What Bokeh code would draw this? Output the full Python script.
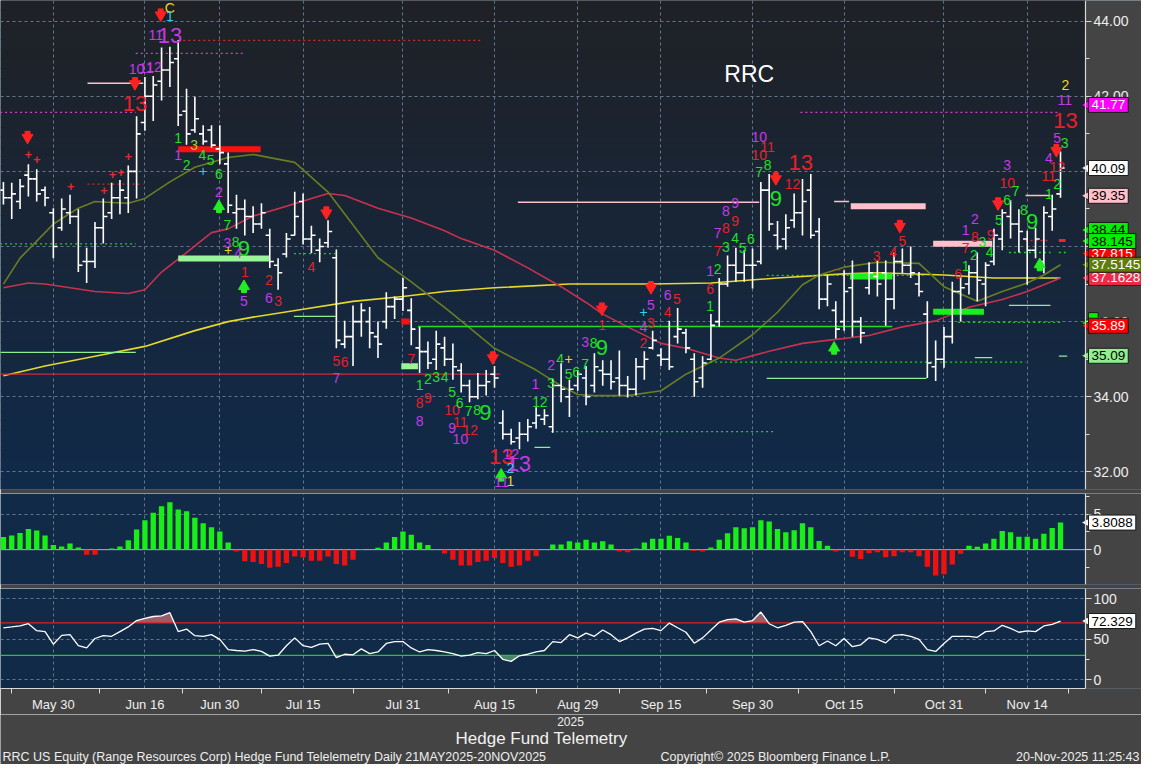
import numpy as np
from bokeh.plotting import figure
from bokeh.layouts import column
from bokeh.models import (Range1d, FixedTicker, Label, BoxAnnotation, Grid, LinearAxis,
                          ColumnDataSource, NumeralTickFormatter)
from bokeh.embed import file_html
from bokeh.resources import INLINE
from bokeh.core.properties import value

# ---------------- data (bar index 0 = 21 May 2025 ... 127 = 20 Nov 2025) ----------------
tick_idx = [6, 17, 26, 36, 48, 59, 69, 79, 90, 101, 113, 123]
tick_lbl = ["May 30", "Jun 16", "Jun 30", "Jul 15", "Jul 31", "Aug 15", "Aug 29",
            "Sep 15", "Sep 30", "Oct 15", "Oct 31", "Nov 14"]
minor_idx = [1, 11.5, 21.5, 31, 42, 53.5, 64, 74, 84.5, 95.5, 107, 118, 128]

highs = [39.72, 39.70, 39.80, 40.19, 40.06, 39.60, 39.02, 39.28, 39.38, 38.99,
         37.97, 38.65, 39.28, 39.70, 39.77, 40.16, 41.47, 42.51, 42.54, 43.30,
         43.32, 43.50, 42.20, 41.99, 41.23, 41.23, 41.23, 40.50, 39.38, 39.25,
         39.07, 39.15, 38.47, 37.69, 38.36, 39.46, 39.41, 38.55, 38.21, 38.70,
         37.92, 36.02, 36.43, 36.49, 36.39, 36.00, 36.78, 36.67, 37.16, 36.62,
         35.86, 35.47, 35.76, 35.60, 35.42, 34.89, 34.45, 34.63, 34.71, 34.82,
         33.64, 33.15, 33.33, 33.41, 33.72, 33.67, 34.48, 34.89, 34.45, 34.71,
         34.82, 35.16, 34.97, 34.97, 35.23, 34.55, 35.03, 35.21, 35.76, 35.29,
         36.02, 36.36, 35.81, 35.16, 35.08, 36.20, 37.16, 37.76, 37.97, 37.90,
         37.95, 39.72, 39.93, 38.68, 38.86, 39.41, 39.80, 39.93, 38.76, 37.24,
         36.54, 37.37, 37.63, 36.12, 37.58, 37.63, 37.63, 37.84, 37.95, 38.00,
         37.32, 36.54, 35.50, 35.86, 37.06, 37.24, 37.50, 37.84, 37.58, 38.47,
         38.99, 39.23, 38.99, 38.42, 38.50, 39.07, 39.38, 40.53]
lows = [39.12, 38.73, 39.00, 39.33, 39.20, 39.07, 37.69, 38.42, 38.60, 37.32,
        37.03, 37.43, 38.08, 38.73, 38.86, 38.89, 39.28, 41.08, 41.34, 41.89,
        42.25, 41.21, 40.71, 41.03, 40.71, 40.63, 40.19, 38.89, 38.47, 38.29,
        38.36, 38.47, 37.43, 36.85, 37.71, 38.29, 38.05, 37.82, 37.58, 37.97,
        35.29, 35.29, 34.82, 35.60, 35.29, 35.03, 35.81, 36.07, 36.28, 35.37,
        34.63, 34.74, 34.71, 34.82, 34.45, 34.11, 33.85, 33.93, 34.03, 34.24,
        32.86, 32.73, 32.60, 32.81, 33.15, 33.25, 33.04, 33.85, 33.46, 34.16,
        33.77, 34.11, 34.29, 34.19, 34.03, 33.98, 34.03, 34.45, 35.26, 34.82,
        34.71, 35.42, 35.16, 34.00, 34.24, 34.97, 35.86, 36.93, 37.06, 37.06,
        36.88, 37.53, 38.42, 37.92, 37.92, 38.50, 38.29, 38.21, 36.33, 36.41,
        35.55, 35.76, 35.60, 35.42, 36.72, 36.67, 35.89, 36.33, 37.29, 37.16,
        36.67, 34.50, 34.42, 34.77, 35.42, 36.00, 36.72, 36.54, 36.41, 37.50,
        37.90, 38.21, 37.84, 36.98, 37.69, 37.29, 38.42, 39.30]
opens = [39.5, 39.3, 39.2, 39.9, 39.8, 39.5, 38.9, 38.5, 38.9, 38.8,
         37.6, 37.6, 38.5, 38.9, 39.3, 39.3, 40.0, 41.3, 42.0, 42.4,
         42.7, 43.0, 41.6, 41.1, 41.0, 41.1, 40.6, 40.2, 38.9, 39.0,
         38.8, 38.6, 38.3, 37.5, 37.8, 38.3, 39.2, 38.2, 37.9, 38.1,
         37.7, 35.4, 35.6, 36.0, 36.0, 35.6, 36.0, 36.4, 36.6, 36.3,
         35.3, 35.2, 35.0, 35.3, 35.0, 34.7, 34.3, 34.0, 34.3, 34.6,
         33.3, 33.0, 32.9, 33.0, 33.3, 33.4, 33.2, 34.3, 34.0, 34.3,
         34.5, 34.3, 34.7, 34.6, 34.5, 34.3, 34.2, 34.8, 35.3, 35.1,
         35.0, 35.6, 35.7, 35.0, 34.5, 35.0, 36.0, 37.0, 37.5, 37.3,
         37.5, 37.6, 39.5, 38.3, 38.2, 38.7, 38.9, 39.5, 38.4, 36.6,
         36.3, 36.0, 36.9, 36.0, 36.9, 37.2, 37.3, 36.6, 37.6, 37.5,
         37.0, 36.2, 34.8, 35.0, 35.6, 36.8, 37.0, 37.3, 37.0, 37.6,
         38.2, 38.8, 38.6, 38.2, 37.9, 37.6, 38.8, 39.4]
closes = [39.3, 39.4, 39.6, 39.8, 39.4, 39.3, 38.0, 39.0, 38.8, 37.5,
          37.6, 38.5, 38.8, 39.3, 39.5, 40.0, 41.0, 42.0, 42.3, 42.7,
          42.9, 41.5, 41.0, 41.4, 40.8, 40.7, 40.5, 39.1, 39.0, 38.8,
          38.6, 38.9, 37.6, 37.3, 38.2, 38.8, 38.2, 38.3, 38.0, 38.4,
          35.5, 35.6, 36.0, 36.3, 35.7, 35.4, 36.4, 36.6, 36.9, 35.8,
          35.2, 34.9, 35.4, 35.0, 34.8, 34.3, 34.0, 34.3, 34.4, 34.5,
          33.0, 32.8, 33.0, 33.2, 33.5, 33.5, 34.3, 34.2, 34.2, 34.6,
          34.0, 34.8, 34.6, 34.4, 34.3, 34.2, 34.8, 35.0, 35.5, 35.0,
          34.8, 35.8, 35.3, 34.4, 34.9, 35.9, 37.0, 37.5, 37.3, 37.5,
          37.5, 39.5, 38.6, 38.0, 38.5, 38.9, 39.2, 38.3, 36.6, 37.0,
          35.8, 36.8, 36.0, 35.7, 37.3, 37.0, 36.6, 37.6, 37.5, 37.3,
          36.8, 34.9, 35.0, 35.6, 36.8, 36.9, 37.3, 37.1, 37.5, 38.3,
          38.9, 38.6, 38.4, 37.9, 38.2, 38.9, 39.0, 40.09]

# moving averages, read at selected bars
ma_fast_i = [0, 2, 5, 6, 9, 11, 13, 15, 17, 20, 23, 27, 30, 35, 39, 45, 49, 53, 55, 59,
             64, 67, 69, 71, 75, 79, 82, 86, 90, 93, 96, 98, 101, 105, 110, 113, 117,
             120, 123, 125, 127]
ma_fast_v = [37.0, 37.69, 38.37, 38.6, 39.02, 39.2, 39.17, 39.15, 39.28, 39.72, 40.11,
             40.37, 40.45, 40.24, 39.45, 37.7, 37.06, 36.38, 36.02, 35.29, 34.71, 34.29,
             34.06, 34.03, 34.03, 34.16, 34.6, 35.03, 35.65, 36.25, 36.98, 37.24, 37.45,
             37.58, 37.55, 36.93, 36.54, 36.8, 37.03, 37.24, 37.5145]
ma_mid_i = [0, 3, 5, 8, 11, 15, 17, 19, 22, 25, 27, 30, 34, 37, 39, 41, 45, 49, 53, 55,
            59, 63, 67, 70, 72, 75, 79, 82, 86, 88, 92, 96, 99, 104, 108, 112, 116,
            120, 123, 125, 127]
ma_mid_v = [36.9, 37.03, 37.0, 36.9, 36.8, 36.75, 36.85, 37.32, 37.84, 38.37, 38.47,
            38.81, 39.07, 39.28, 39.41, 39.36, 39.02, 38.76, 38.42, 38.21, 37.9, 37.43,
            36.93, 36.51, 36.2, 35.86, 35.42, 35.29, 35.03, 34.97, 35.21, 35.42, 35.5,
            35.63, 35.86, 36.02, 36.38, 36.59, 36.8, 36.98, 37.1628]
ma_slow_i = [0, 5, 11, 17, 23, 27, 30, 36, 42, 48, 53, 59, 68, 78, 85, 93, 101, 105,
             113, 119, 127]
ma_slow_v = [34.56, 34.82, 35.08, 35.34, 35.76, 36.0, 36.12, 36.33, 36.54, 36.67, 36.8,
             36.9, 37.0, 37.0, 37.03, 37.16, 37.27, 37.3, 37.24, 37.16, 37.16]

# histogram oscillator
macd = [1.77, 2.0, 2.36, 2.9, 2.68, 2.0, 0.64, 0.45, 0.86, 0.32,
        -0.73, -0.73, 0.05, 0.18, 0.45, 1.32, 2.82, 4.14, 5.18, 6.09,
        6.68, 5.64, 5.41, 4.5, 3.73, 3.14, 2.55, 1.0, -0.27, -1.64,
        -1.73, -2.0, -2.55, -2.41, -1.86, -0.95, -1.09, -1.55, -1.55, -0.95,
        -2.0, -2.23, -1.41, -0.05, 0.05, 0.27, 1.0, 1.77, 2.55, 2.09,
        1.0, 0.64, 0.05, -0.55, -1.41, -2.23, -2.23, -1.73, -1.55, -1.18,
        -1.86, -2.41, -2.23, -1.55, -0.91, 0.05, 0.73, 0.73, 1.18, 1.0,
        1.41, 1.0, 1.18, 0.73, -0.27, -0.36, 0.18, 1.0, 1.55, 1.55,
        1.95, 1.64, 1.0, -0.18, -0.27, 0.32, 1.41, 2.32, 3.14, 3.0,
        3.14, 4.14, 3.95, 2.91, 2.45, 2.73, 3.73, 3.14, 1.23, 0.55,
        -0.27, -0.05, -1.0, -1.32, -0.5, -0.36, -1.05, -0.91, -0.36, -0.36,
        -0.91, -2.41, -3.64, -3.45, -2.09, -0.59, 0.55, 0.41, 0.86, 1.55,
        2.64, 2.45, 1.82, 1.82, 1.55, 2.23, 3.05, 3.8088]

rsi = [64.0, 65.1, 66.3, 69.0, 60.5, 59.3, 43.8, 54.7, 55.5, 41.9,
       39.2, 50.8, 54.3, 53.5, 59.3, 65.1, 72.9, 75.6, 77.9, 78.7,
       82.6, 59.3, 62.4, 54.3, 53.5, 55.5, 49.7, 37.2, 36.0, 35.3,
       37.2, 34.9, 29.1, 30.2, 41.9, 51.6, 41.9, 40.0, 43.8, 44.7,
       27.2, 31.4, 30.7, 38.0, 32.2, 34.2, 44.7, 47.0, 47.0, 39.2,
       34.2, 37.2, 36.0, 34.2, 32.2, 29.1, 30.2, 33.4, 32.2, 36.0,
       25.2, 22.6, 29.5, 31.4, 34.2, 36.0, 47.0, 45.8, 55.5, 51.6,
       57.4, 53.5, 61.3, 55.5, 47.0, 51.6, 57.4, 62.4, 63.2, 60.5,
       69.8, 64.0, 58.5, 45.0, 51.6, 61.3, 70.9, 74.1, 74.9, 70.9,
       72.9, 83.4, 69.0, 64.0, 67.1, 70.9, 71.7, 59.3, 41.9, 47.7,
       41.9, 50.8, 40.7, 43.0, 51.6, 49.7, 45.4, 54.7, 55.5, 53.5,
       49.7, 37.2, 34.9, 44.7, 53.5, 53.5, 53.5, 52.3, 59.3, 60.1,
       67.1, 63.2, 58.5, 60.1, 59.3, 66.3, 68.3, 72.329]
rsi_hi, rsi_lo = 70, 30

# horizontal study levels: start bar, end bar, price, kind
lv_x0 = [-0.4, 15.9, 21.0, 10.1, 10.1, -0.4, -0.4, -0.4, 21.0, 21.0, 34.9, 34.9, 47.8,
         47.8, 49.8, 65.8, 63.8, 84.9, 91.7, 61.8, 99.8, 101.8, 91.7, 101.7, 99.7,
         111.7, 111.7, 114.7, 116.7, 126.8, 120.8, 120.8, 126.8, 122.8, 126.8, 122.8, 95.75]
lv_x1 = [15.9, 28.9, 57.6, 16.8, 16.8, 15.9, 15.9, 59.7, 30.9, 31.9, 39.9, 39.9, 48.8,
         49.8, 106.8, 92.5, 65.7, 122.8, 110.9, 90.8, 101.6, 110.8, 110.8, 106.8, 101.4,
         118.8, 117.8, 127.0, 118.8, 127.8, 125.8, 125.8, 127.8, 125.8, 127.6, 125.8, 127.0]
lv_y = [41.57, 43.14, 43.49, 42.35, 39.66, 38.07, 35.18, 34.60, 40.59, 37.68, 37.81, 36.14,
        36.00, 34.81, 35.87, 33.07, 32.65, 34.92, 34.49, 39.18, 39.20, 39.07, 37.23, 37.20,
        37.38, 38.07, 36.26, 35.98, 35.04, 35.08, 36.43, 37.84, 37.84, 38.16, 38.16,
        39.36, 41.57]
lv_kind = ["mag_dot", "mag_dot", "red_dot", "pink", "red_dot", "green_dot", "lgreen",
           "crimson", "red_bar", "lgreen_bar", "green_dot", "lgreen", "red_bar",
           "lgreen_bar", "green", "green_dot", "lgreen", "green_dot", "lgreen", "pink",
           "pink", "pink_bar", "green_dot", "green_bar", "red_dot", "pink_bar",
           "green_bar", "green_dot", "lgreen", "lgreen", "lgreen", "green_dot",
           "green_dot", "red_dot", "red_tick", "pink", "mag_dot"]

# sequential counts: bar, price, text, colour group
td_x = [20, 20, 18.3, 20.0, 16.0, 17.2, 18.1, 15.8, 21, 22.9, 21, 22, 23.9, 24.9, 24,
        25.9, 25.9, 26.9, 26.9, 27.9, 28.9, 28.2, 27.0, 29, 28.9, 31.9, 31.9, 33, 37,
        40, 41, 40, 49, 50, 51, 52, 53, 50, 51, 50, 53.9, 53.9, 54.8, 55.9, 56.9, 57.9,
        54.9, 56.1, 53.9, 54.9, 59.8, 61.0, 61.9, 60.9, 60.9, 59.8, 63.9, 64.0, 64.9,
        65.8, 65.8, 66.9, 67.9, 67.9, 68.8, 69.9, 69.9, 70.9, 71.9, 71.9, 77.8, 76.9,
        76.9, 77.8, 76.9, 79.8, 80.9, 79.8, 84.9, 84.9, 84.9, 85.8, 85.8, 86.8, 85.8,
        86.8, 87.9, 88.8, 89.8, 86.8, 87.9, 87.9, 90.8, 91.8, 90.8, 90.8, 91.8, 92.8,
        94.8, 95.8, 104.9, 106.9, 108.0, 114.7, 115.6, 115.6, 116.6, 115.6, 116.7,
        117.6, 116.7, 118.6, 118.5, 119.6, 120.6, 120.6, 121.6, 120.6, 122.6, 123.6,
        125.6, 126.6, 125.6, 126.6, 125.6, 126.6, 127.5, 127.6, 127.5, 127.6]
td_y = [44.36, 44.13, 43.63, 43.63, 42.72, 42.75, 42.77, 41.81, 40.9, 40.7, 40.43, 40.17,
        40.43, 40.3, 40.0, 39.92, 39.46, 38.57, 38.1, 38.12, 37.95, 37.84, 37.92, 37.33,
        36.56, 37.11, 36.63, 36.56, 37.46, 34.96, 34.92, 34.5, 35.0, 34.3, 34.47, 34.52,
        34.52, 33.83, 33.96, 33.35, 34.13, 33.64, 33.83, 33.62, 33.64, 33.57, 33.33,
        33.11, 33.18, 32.87, 32.42, 32.47, 32.22, 32.1, 31.76, 31.72, 34.35, 33.85, 33.85,
        34.37, 34.85, 35.0, 35.0, 34.6, 34.67, 34.87, 35.46, 35.42, 35.31, 35.91, 36.43,
        36.25, 35.86, 35.96, 35.42, 36.72, 36.61, 36.25, 36.41, 36.88, 37.35, 37.4,
        37.87, 38.0, 38.36, 38.48, 38.22, 37.96, 38.2, 38.94, 38.68, 39.16, 40.92, 40.66,
        40.44, 39.98, 40.18, 39.27, 39.66, 40.24, 37.74, 37.85, 38.14, 37.28, 37.47,
        37.95, 37.78, 38.43, 38.26, 38.13, 38.72, 38.3, 37.85, 38.7, 39.23, 39.7, 39.49,
        40.17, 38.98, 38.66, 39.4, 39.66, 39.88, 40.11, 40.35, 40.9, 40.76, 41.35, 41.9,
        42.3]
td_t = ["C", "1", "11", "13", "10", "11", "12", "13", "1", "3", "1", "2", "4", "5", "+",
        "6", "2", "7", "3", "8", "9", "4", "+", "1", "5", "2", "6", "3", "4",
        "5", "6", "7", "7", "1", "2", "3", "4", "8", "9", "8", "5", "10", "6", "7", "8", "9",
        "11", "12", "9", "10", "13", "12", "13", "2", "1", "11", "1", "1", "2",
        "3", "2", "4", "+", "5", "6", "7", "3", "8", "9", "1", "5", "+",
        "4", "3", "2", "6", "5", "4", "1", "6", "1", "2", "7", "3", "7",
        "8", "4", "5", "6", "8", "9", "9", "10", "11", "10", "7", "8", "9",
        "12", "13", "3", "4", "5", "6", "1", "7", "2", "1", "8",
        "3", "2", "9", "4", "5", "6", "10", "7", "3", "8", "9",
        "1", "2", "11", "12", "4", "5", "3", "13", "11", "2"]
td_g = ["Y", "C", "M", "M", "M", "M", "M", "R", "G", "L", "M", "G", "G", "G", "C",
        "G", "M", "G", "M", "G", "G", "M", "Y", "R", "M", "R", "M", "R", "R",
        "R", "R", "M", "R", "G", "G", "G", "G", "R", "R", "M", "G", "R", "G", "G", "G", "G",
        "R", "R", "M", "M", "R", "M", "M", "C", "Y", "M", "M", "G", "G",
        "G", "M", "G", "Y", "G", "G", "G", "M", "G", "G", "R", "M", "C",
        "M", "R", "R", "M", "R", "R", "G", "R", "M", "G", "R", "G", "M",
        "R", "G", "G", "G", "M", "R", "M", "M", "R", "R", "G", "G", "G",
        "R", "R", "R", "R", "R", "R", "G", "R", "G", "M", "R",
        "G", "M", "R", "G", "G", "G", "R", "G", "M", "G", "G",
        "G", "G", "R", "R", "M", "M", "G", "R", "M", "Y"]

sell_arrow_x = [18.9, 15.8, 2.9, 38.8, 58.8, 71.9, 77.8, 92.8, 107.7, 119.5, 126.5]
sell_arrow_y = [44.16, 42.33, 40.9, 38.89, 35.03, 36.33, 36.9, 39.8, 38.53, 39.13, 40.55]
buy_arrow_x = [25.9, 28.9, 59.8, 99.8, 124.5]
buy_arrow_y = [39.07, 36.94, 31.92, 35.3, 37.52]
plus_x = [3.0, 4.0, 8.1, 12.1, 13.1, 14.1, 15.0]
plus_y = [40.46, 40.31, 39.59, 39.5, 39.93, 39.98, 40.39]

tag_vals = [41.77, 40.09, 39.35, 38.44, 37.815, 38.145, 35.96, 35.89, 37.1628, 37.5145, 35.09]
tag_txt = ["41.77", "40.09", "39.35", "38.44", "37.815", "38.145", "", "35.89",
           "37.1628", "37.5145", "35.09"]
tag_kind = ["mag", "white", "pink", "green", "red", "green", "green", "red", "crimson",
            "olive", "lgreen"]

price_ticks = [32, 34, 36, 38, 40, 42, 44]
price_minor = [33, 35, 37, 39, 41, 43]
osc_ticks = [0, 5]
osc_minor = [-2.5, 2.5, 7.5]
rsi_ticks = [0, 50, 100]
rsi_minor = [25, 75]

# ---------------- style ----------------
W = 1141
GRAY = "#444444"
NAVY = "#102a47"
GRIDC = "#65758c"
FONT = "Liberation Sans"
GCOL = {"R": "#e8202a", "G": "#22e022", "M": "#c43ae6", "Y": "#e8d820",
        "C": "#38c8ec", "L": "#9acd32"}
LSTY = {"mag_dot": ("#d040d0", "2 3", 1.3), "red_dot": ("#d02828", "2 3", 1.3),
        "pink": ("#ffc0cb", "solid", 1.5), "green_dot": ("#22d022", "2 3", 1.3),
        "lgreen": ("#90ee90", "solid", 1.3), "crimson": ("#d02840", "solid", 1.3),
        "green": ("#22dd22", "solid", 1.3), "red_bar": ("#ff1010", "solid", 6),
        "lgreen_bar": ("#98f598", "solid", 6), "pink_bar": ("#ffc0cb", "solid", 6),
        "green_bar": ("#19f019", "solid", 6), "red_tick": ("#ff2020", "solid", 3)}
TAGSTY = {"mag": ("#ff00ff", "white"), "white": ("white", "black"), "pink": ("#ffc0cb", "black"),
          "green": ("#00f000", "black"), "red": ("#ff0000", "white"),
          "crimson": ("#ee2a48", "white"), "olive": ("#5e7d0c", "white"),
          "lgreen": ("#90ee90", "black")}

AXX = 130.0                      # bar coordinate where the value axis sits
XR = Range1d(-0.35, 136.73)      # frame spans the full width; strip right of AXX is the axis zone
PY0, PY1 = 31.53, 44.55


def make_fig(h, yr, bottom, ticks, minor, grid_ticks, xaxis=False):
    p = figure(width=W, height=h, x_range=XR, y_range=yr, output_backend="svg",
               toolbar_location=None, y_axis_location=None,
               x_axis_location="below" if xaxis else None,
               min_border_left=0, min_border_right=0, min_border_top=0,
               min_border_bottom=bottom, border_fill_color=GRAY,
               background_fill_color=NAVY, outline_line_color=None)
    p.grid.visible = False
    p.add_layout(Grid(dimension=0, ticker=FixedTicker(ticks=tick_idx),
                      grid_line_color=GRIDC, grid_line_dash="3 3", grid_line_width=1))
    p.add_layout(Grid(dimension=1, ticker=FixedTicker(ticks=grid_ticks),
                      grid_line_color=GRIDC, grid_line_dash="3 3", grid_line_width=1))
    p.add_layout(BoxAnnotation(left=AXX, fill_color=GRAY, fill_alpha=1.0, line_color=None,
                               level="underlay"))
    ax = LinearAxis(fixed_location=AXX, ticker=FixedTicker(ticks=ticks, minor_ticks=minor))
    ax.axis_line_color = "#d8d8d8"
    ax.axis_line_width = 1.2
    ax.major_tick_line_color = "#d8d8d8"
    ax.minor_tick_line_color = "#d8d8d8"
    ax.major_tick_in = 0
    ax.major_tick_out = 6
    ax.minor_tick_in = 0
    ax.minor_tick_out = 4
    ax.major_label_text_color = "#eeeeee"
    ax.major_label_text_font = FONT
    ax.major_label_text_font_size = "14px"
    ax.major_label_standoff = 2
    p.add_layout(ax, "right")
    return p, ax


def tags(p, vals, texts, kinds, size):
    for v, t, kd in zip(vals, texts, kinds):
        bg, fg = TAGSTY[kd]
        p.scatter([AXX + 0.55], [v], marker="triangle", angle=np.pi / 2, size=15,
                  fill_color=bg, line_color="#1a1a1a", line_width=0.8)
        p.add_layout(Label(x=AXX, y=v, text=t if t else " ", text_color=fg,
                           text_font=FONT, text_font_size=size, text_align="left",
                           text_baseline="middle", background_fill_color=bg,
                           background_fill_alpha=1.0, border_line_color="#1a1a1a",
                           border_line_width=1, padding=3, x_offset=3))


idx = np.arange(len(highs))

# ---------------- price panel ----------------
p1, ax1 = make_fig(493, Range1d(PY0, PY1), 4, price_ticks, price_minor, price_ticks)
ax1.formatter = NumeralTickFormatter(format="0.00")
top_c = np.array([0x1f, 0x21, 0x26], dtype=float)
bot_c = np.array([0x10, 0x2a, 0x4a], dtype=float)
nb = 50
edges = np.linspace(PY0, PY1, nb + 1)
for k in range(nb):
    t = (k + 0.5) / nb
    c = bot_c * (1 - t) + top_c * t
    col = "#%02x%02x%02x" % tuple(int(round(v)) for v in c)
    p1.add_layout(BoxAnnotation(bottom=edges[k], top=edges[k + 1] + 0.02, right=AXX,
                                fill_color=col, fill_alpha=1.0, line_color=None,
                                level="image"))

# moving averages
p1.line(ma_slow_i, ma_slow_v, line_color="#e6d92a", line_width=1.6)
p1.line(ma_mid_i, ma_mid_v, line_color="#c8324e", line_width=1.6)
p1.line(ma_fast_i, ma_fast_v, line_color="#6a7d22", line_width=1.6)

# levels
for x0, x1, y, kd in zip(lv_x0, lv_x1, lv_y, lv_kind):
    colr, dash, lw = LSTY[kd]
    p1.segment(x0=[x0], y0=[y], x1=[x1], y1=[y], line_color=colr, line_dash=dash,
               line_width=lw)

# OHLC bars
src = ColumnDataSource(dict(x=idx, xl=idx - 0.5, xr=idx + 0.5, o=opens, h=highs,
                            l=lows, c=closes))
p1.segment(x0="x", y0="l", x1="x", y1="h", source=src, line_color="white", line_width=1.6)
p1.segment(x0="xl", y0="o", x1="x", y1="o", source=src, line_color="white", line_width=1.6)
p1.segment(x0="x", y0="c", x1="xr", y1="c", source=src, line_color="white", line_width=1.6)

# arrows and marks
p1.scatter(sell_arrow_x, np.array(sell_arrow_y) + 0.1, marker="square", size=5,
           color="#ff2222")
p1.scatter(sell_arrow_x, sell_arrow_y, marker="inverted_triangle", size=11, color="#ff2222")
p1.scatter(buy_arrow_x, np.array(buy_arrow_y) - 0.1, marker="square", size=5, color="#22ee22")
p1.scatter(buy_arrow_x, buy_arrow_y, marker="triangle", size=11, color="#22ee22")
p1.text(plus_x, plus_y, text=["+"] * len(plus_x), text_color="#d83030",
        text_font=value(FONT), text_font_size="13px", text_align="center",
        text_baseline="middle", text_font_style="bold")

# sequential counts
big = [(t == "13") or (t == "9" and g == "G") for t, g in zip(td_t, td_g)]
td_src = ColumnDataSource(dict(x=td_x, y=td_y, t=td_t,
                               c=[GCOL[g] for g in td_g],
                               s=["22px" if b else "14px" for b in big]))
p1.text(x="x", y="y", text="t", text_color="c", text_font_size="s", source=td_src,
        text_font=value(FONT), text_align="center", text_baseline="middle")

p1.add_layout(Label(x=89.6, y=42.59, text="RRC", text_color="white", text_font=FONT,
                    text_font_size="23px", text_align="center", text_baseline="middle"))
tags(p1, tag_vals, tag_txt, tag_kind, "13.5px")

# ---------------- oscillator panel ----------------
p2, ax2 = make_fig(95, Range1d(-4.9, 7.9), 4, osc_ticks, osc_minor, [5])
p2.segment(x0=[XR.start], y0=[0], x1=[AXX], y1=[0], line_color="#b8b8b8", line_width=1)
mcol = ["#19ee19" if m >= 0 else "#ee1111" for m in macd]
p2.vbar(x=idx, top=macd, bottom=0, width=0.64, fill_color=mcol, line_color=None)
tags(p2, [macd[-1]], ["3.8088"], ["white"], "13.5px")

# ---------------- RSI panel ----------------
p3, ax3 = make_fig(126, Range1d(-10.8, 112.4), 22, rsi_ticks, rsi_minor, rsi_ticks,
                   xaxis=True)
rs = np.array(rsi, dtype=float)
# shaded zones beyond the thresholds (crossings located so the fill edges meet the line)
fx = []
for k in range(len(rs)):
    if k > 0:
        for lvl in (rsi_hi, rsi_lo):
            a, b = rs[k - 1], rs[k]
            if (a - lvl) * (b - lvl) < 0:
                fx.append(k - 1 + (lvl - a) / (b - a))
    fx.append(float(k))
fx = np.array(sorted(fx))
fy = np.interp(fx, idx, rs)
p3.varea(x=fx, y1=rsi_hi, y2=np.maximum(fy, rsi_hi), fill_color="#a0606e", fill_alpha=0.95)
p3.varea(x=fx, y1=np.minimum(fy, rsi_lo), y2=rsi_lo, fill_color="#4a8a68", fill_alpha=0.95)
p3.segment(x0=[XR.start], y0=[rsi_hi], x1=[AXX], y1=[rsi_hi], line_color="#e02020",
           line_width=1.3)
p3.segment(x0=[XR.start], y0=[rsi_lo], x1=[AXX], y1=[rsi_lo], line_color="#20cc20",
           line_width=1.3)
p3.line(idx, rs, line_color="white", line_width=1.3)
tags(p3, [rsi[-1]], ["72.329"], ["white"], "13.5px")

xa = p3.xaxis[0]
xa.ticker = FixedTicker(ticks=tick_idx, minor_ticks=minor_idx)
xa.major_label_overrides = {t: l for t, l in zip(tick_idx, tick_lbl)}
xa.bounds = (XR.start, AXX)
xa.major_label_text_color = "#eeeeee"
xa.major_label_text_font = FONT
xa.major_label_text_font_size = "13px"
xa.major_label_standoff = 3
xa.axis_line_color = "#d8d8d8"
xa.major_tick_line_color = None
xa.minor_tick_line_color = "#d8d8d8"
xa.minor_tick_in = 0
xa.minor_tick_out = 5
xa.major_tick_out = 0
xa.major_tick_in = 0

# ---------------- footer ----------------
p4 = figure(width=W, height=50, x_range=Range1d(0, W), y_range=Range1d(0, 50),
            output_backend="svg", toolbar_location=None, x_axis_location=None,
            y_axis_location=None, min_border=0, border_fill_color=GRAY,
            background_fill_color=GRAY, outline_line_color=None)
p4.grid.visible = False
p4.text(x=[570], y=[43], text=["2025"], text_color="#eeeeee", text_font=value(FONT),
        text_font_size="12px", text_align="center", text_baseline="middle")
p4.text(x=[541], y=[26], text=["Hedge Fund Telemetry"], text_color="#f2f2f2",
        text_font=value(FONT), text_font_size="17px", text_align="center",
        text_baseline="middle")
p4.text(x=[2], y=[8], text=["RRC US Equity (Range Resources Corp) Hedge Fund Telelemetry Daily 21MAY2025-20NOV2025"],
        text_color="#eeeeee", text_font=value(FONT), text_font_size="12.5px",
        text_align="left", text_baseline="middle")
p4.text(x=[660], y=[8], text=["Copyright\u00a9 2025 Bloomberg Finance L.P."],
        text_color="#eeeeee", text_font=value(FONT), text_font_size="12.5px",
        text_align="left", text_baseline="middle")
p4.text(x=[W - 2], y=[8], text=["20-Nov-2025 11:25:43"],
        text_color="#eeeeee", text_font=value(FONT), text_font_size="12.5px",
        text_align="right", text_baseline="middle")

layout = column(p1, p2, p3, p4, spacing=0)
open("out.html", "w").write(file_html(layout, INLINE))
